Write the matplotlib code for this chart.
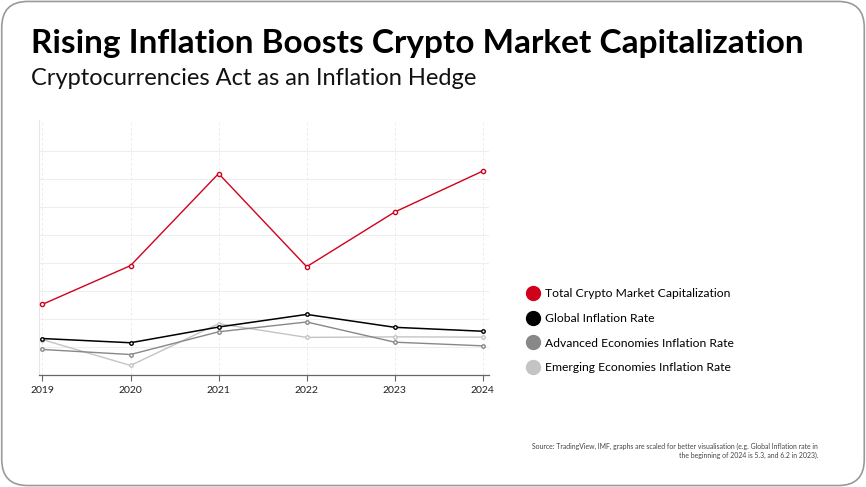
import matplotlib.pyplot as plt
from matplotlib.patches import FancyBboxPatch
from matplotlib.lines import Line2D

plt.rcParams['font.family'] = ['Lato', 'DejaVu Sans']

# data (scaled values)
years = [2019, 2020, 2021, 2022, 2023, 2024]
crypto_cap = [2.53, 3.91, 7.19, 3.87, 5.82, 7.28]
global_infl = [1.31, 1.16, 1.72, 2.17, 1.71, 1.57]
advanced_infl = [0.92, 0.74, 1.55, 1.90, 1.18, 1.05]
emerging_infl = [1.27, 0.35, 1.84, 1.35, 1.37, 1.36]

series_labels = ["Total Crypto Market Capitalization", "Global Inflation Rate",
                 "Advanced Economies Inflation Rate", "Emerging Economies Inflation Rate"]
series_colors = ["#d0021b", "#000000", "#888888", "#c4c4c4"]

fig = plt.figure(figsize=(8.66, 4.87), dpi=100)
fig.patch.set_facecolor('white')

# rounded border around the card
border = FancyBboxPatch((0.002, 0.003), 0.996, 0.994, boxstyle="round,pad=0,rounding_size=0.03",
                        transform=fig.transFigure, facecolor='none', edgecolor='#9a9a9a',
                        linewidth=1.2, mutation_aspect=866 / 487, zorder=-1)
fig.patches.append(border)

fig.text(0.036, 0.91, "Rising Inflation Boosts Crypto Market Capitalization",
         fontsize=24, fontweight='bold', color='black', va='center', ha='left')
fig.text(0.036, 0.839, "Cryptocurrencies Act as an Inflation Hedge",
         fontsize=17, color='#111111', va='center', ha='left')

ax = fig.add_axes([0.045, 0.2294, 0.5196, 0.5242])
series = [crypto_cap, global_infl, advanced_infl, emerging_infl]
widths = [1.0, 1.1, 1.0, 1.0]
order = [3, 2, 1, 0]
for i in order:
    ax.plot(years, series[i], color=series_colors[i], linewidth=widths[i], marker='o',
            markersize=3 if i == 0 else 2.5, markerfacecolor='white',
            markeredgecolor=series_colors[i], markeredgewidth=1.0, zorder=3 + (3 - i))

ax.set_xlim(2018.96, 2024.07)
ax.set_ylim(0, 9.1)
ax.set_xticks(years)
ax.set_xticklabels([str(y) for y in years], fontsize=7.5, color='#222222')
ax.set_yticks(range(1, 9))
ax.tick_params(axis='y', left=False, labelleft=False)
ax.tick_params(axis='x', direction='out', length=4, width=0.8, color='#666666', pad=4)
ax.grid(axis='y', color='#eeeeee', linewidth=0.8)
ax.grid(axis='x', color='#e6e6e6', linewidth=0.6, linestyle=(0, (3, 3)))
for side in ['top', 'right']:
    ax.spines[side].set_visible(False)
ax.spines['left'].set_color('#e6e6e6')
ax.spines['left'].set_linewidth(0.8)
ax.spines['bottom'].set_color('#666666')
ax.spines['bottom'].set_linewidth(0.9)

handles = [Line2D([0], [0], marker='o', linestyle='none', markersize=10,
                  markerfacecolor=c, markeredgecolor=c) for c in series_colors]
fig.legend(handles, series_labels, loc='upper left', bbox_to_anchor=(0.596, 0.43),
           frameon=False, fontsize=8.7, handletextpad=0.5, labelspacing=1.12,
           handlelength=1.0)

fig.text(0.945, 0.074, "Source: TradingView, IMF, graphs are scaled for better visualisation (e.g. Global Inflation rate in\n"
         "the beginning of 2024 is 5.3, and 6.2 in 2023).",
         fontsize=4.95, color='#444444', ha='right', va='center', linespacing=1.4,
         multialignment='right')

fig.savefig("out.png", dpi=100, facecolor='white')
